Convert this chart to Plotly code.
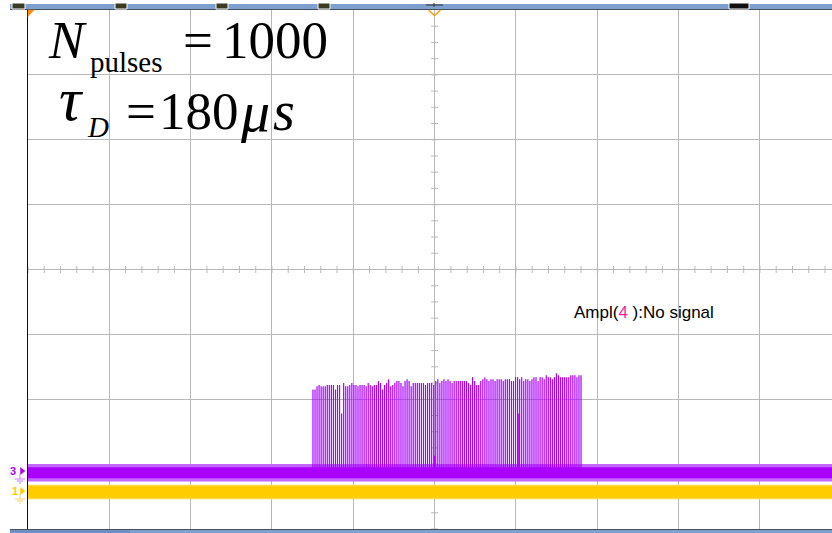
import numpy as np
import plotly.graph_objects as go

# ---------------------------------------------------------------- data
# Screen units: horizontal and vertical divisions of the scope graticule.
# The screen shows 10 x 8 divisions; the right edge is clipped at 9.886 div.
X_VISIBLE_DIVS = 9.886
Y_DIVS = 4.0

# Channel 3 (purple) and channel 1 (yellow) baselines and noise bands [div]
ch3_level = -3.132
ch3_noise_pp = 0.170
ch3_fringe_pp = 0.270
ch1_level = -3.430
ch1_noise_pp = 0.179
ch1_fringe_pp = 0.225

# Pulse train on channel 3: first / last pulse position [div] and peak levels [div]
pulse_first = 3.504
pulse_last = 6.800
pulse_tops = [
    -1.85, -1.85, -1.80, -1.78, -1.80, -1.80, -1.80, -1.78, -1.78, -1.78,
    -1.78, -1.85, -1.78, -1.78, -2.22, -1.75, -1.80, -1.80, -1.78, -1.75,
    -1.78, -1.78, -1.80, -1.78, -1.78, -1.78, -1.80, -1.75, -1.78, -1.80,
    -1.78, -1.78, -1.72, -1.75, -1.85, -1.78, -1.75, -1.69, -1.80, -1.78,
    -1.75, -1.72, -1.72, -1.75, -1.80, -1.72, -1.69, -1.72, -1.80, -1.75,
    -1.75, -1.75, -1.75, -1.75, -1.75, -1.78, -1.75, -1.75, -1.75, -1.78,
    -1.72, -1.69, -1.75, -1.72, -1.69, -1.72, -1.69, -1.72, -1.75, -1.72,
    -1.72, -1.72, -1.72, -1.72, -1.72, -1.72, -1.75, -1.78, -1.66, -1.72,
    -1.78, -1.78, -1.72, -1.69, -1.66, -1.69, -1.72, -1.69, -1.69, -1.72,
    -1.69, -1.69, -1.69, -1.72, -1.69, -1.69, -1.69, -1.72, -1.72, -1.66,
    -1.66, -1.69, -1.66, -1.72, -1.69, -1.69, -1.72, -1.69, -1.66, -1.66,
    -1.72, -1.66, -1.66, -1.69, -1.63, -1.66, -1.66, -1.69, -1.66, -1.60,
    -1.63, -1.66, -1.66, -1.66, -1.66, -1.66, -1.63, -1.63, -1.63, -1.66,
    -1.63, -1.63,
]
# isolated short glitches on channel 3: position [div], peak [div]
glitch_x = [6.034, 5.000]
glitch_top = [-2.22, -2.87]

PURPLE = "#aa00ff"
PURPLE_LIGHT = "#c466ff"
YELLOW = "#ffcc00"
YELLOW_LIGHT = "#ffd84a"
GRID = "#b8b8b8"

# ---------------------------------------------------------------- layout helpers
W, H = 832, 533
L, T, R, B = 28, 10, 832, 529


def px(x):
    return (x - L) / (R - L)


def py(y):
    return (B - y) / (B - T)


fig = go.Figure()


def band(level, pp, color, opacity=1.0):
    x = [0, X_VISIBLE_DIVS]
    fig.add_trace(go.Scatter(x=x, y=[level - pp / 2] * 2, mode="lines",
                             line=dict(width=0, color=color), hoverinfo="skip",
                             showlegend=False))
    fig.add_trace(go.Scatter(x=x, y=[level + pp / 2] * 2, mode="lines",
                             line=dict(width=0, color=color), fill="tonexty",
                             fillcolor=color, opacity=opacity, hoverinfo="skip",
                             showlegend=False))


# graticule centre-line minor ticks
cx = np.arange(0, X_VISIBLE_DIVS, 0.2)
fig.add_trace(go.Scatter(x=cx, y=np.zeros_like(cx), mode="markers",
                         marker=dict(symbol="line-ns", size=5,
                                     line=dict(width=1, color=GRID)),
                         hoverinfo="skip", showlegend=False))
cy = np.arange(-Y_DIVS, Y_DIVS, 0.25)
fig.add_trace(go.Scatter(x=np.full_like(cy, 5.0), y=cy, mode="markers",
                         marker=dict(symbol="line-ew", size=5,
                                     line=dict(width=1, color=GRID)),
                         hoverinfo="skip", showlegend=False))

# channel 1 (yellow)
band(ch1_level, ch1_fringe_pp, YELLOW_LIGHT, 0.35)
band(ch1_level, ch1_noise_pp, YELLOW)

# channel 3 (purple)
band(ch3_level, ch3_fringe_pp, PURPLE_LIGHT, 0.35)
band(ch3_level, ch3_noise_pp, PURPLE)

# pulse spikes
n = len(pulse_tops)
pulse_x = np.linspace(pulse_first, pulse_last, n)
sx, sy = [], []
for xv, top in zip(list(pulse_x) + glitch_x, pulse_tops + glitch_top):
    sx += [float(xv), float(xv), None]
    sy += [ch3_level, top, None]
fig.add_trace(go.Scatter(x=sx, y=sy, mode="lines",
                         line=dict(width=1.2, color=PURPLE),
                         hoverinfo="skip", showlegend=False))

# ---------------------------------------------------------------- decorations
shapes = []


def rect(x0, y0, x1, y1, fill, line=None, lw=0):
    shapes.append(dict(type="rect", xref="paper", yref="paper",
                       x0=px(x0), x1=px(x1), y0=py(y1), y1=py(y0),
                       fillcolor=fill, line=dict(width=lw, color=line or fill),
                       layer="above"))


def seg(x0, y0, x1, y1, color, lw=1):
    shapes.append(dict(type="line", xref="paper", yref="paper",
                       x0=px(x0), x1=px(x1), y0=py(y0), y1=py(y1),
                       line=dict(width=lw, color=color), layer="above"))


def path(points, fill, color, lw=1):
    d = "M " + " L ".join(f"{px(x)},{py(y)}" for x, y in points) + " Z"
    shapes.append(dict(type="path", xref="paper", yref="paper", path=d,
                       fillcolor=fill, line=dict(width=lw, color=color),
                       layer="above"))


# top status bar with knobs
rect(10, 4, 832, 9, "#7f9fcf")
seg(10, 9.5, 832, 9.5, "#46505a", 1.2)
for a, b in [(12, 25), (115, 127), (216, 228), (318, 330)]:
    rect(a, 3, b, 9, "#3a3a22", "white", 1)
rect(729, 3, 749, 9, "#111111", "white", 1)
seg(426, 5, 443, 5, "#333333", 1)
seg(434, 3, 434, 7, "#333333", 1)

# bottom status bar
seg(10, 529.5, 832, 529.5, "#46505a", 1.2)
rect(10, 530, 130, 533, "#6f8fc4")
rect(130, 530, 832, 533, "#7f9fcf")

# trigger markers
path([(28, 10), (34, 10), (28, 16.5)], "#ff8c00", "#ff8c00", 0.5)
shapes.append(dict(type="path", xref="paper", yref="paper",
                   path=f"M {px(428.5)},{py(10)} L {px(434.5)},{py(15.5)} L {px(440.5)},{py(10)}",
                   line=dict(width=1.3, color="#ff9900"), layer="above"))

# channel markers with ground symbols
for yc, col, pale in [(471, PURPLE, "#c77dff"), (491, YELLOW, "#f5d36a")]:
    path([(20.5, yc - 3.5), (25, yc), (20.5, yc + 3.5)], col, col, 0.5)
    seg(20, yc + 3, 20, yc + 8, pale, 1)
    seg(15, yc + 8, 25, yc + 8, pale, 1)
    seg(17, yc + 10, 23, yc + 10, pale, 1)
    seg(19, yc + 12, 21, yc + 12, pale, 1)

# ---------------------------------------------------------------- text
ann = []


def text(x, y, s, size, color="black", family="Liberation Serif",
         xanchor="left", yanchor="middle"):
    ann.append(dict(x=px(x), y=py(y), xref="paper", yref="paper", text=s,
                    showarrow=False, xanchor=xanchor, yanchor=yanchor,
                    font=dict(size=size, color=color, family=family)))


text(46, 40, "<i>N</i>", 53)
text(88, 62, "pulses", 29)
text(181, 40, "=", 53)
text(220, 40, "1000", 53)

text(57, 99, "<i>τ</i>", 62)
text(85, 127, "<i>D</i>", 29)
text(124, 111, "=", 53)
text(157, 111, "180", 53)
text(238, 111, "<i>μ</i>", 58)
text(271, 111, "<i>s</i>", 56)

ann.append(dict(x=px(572), y=py(312), xref="paper", yref="paper",
                text="Ampl(<span style='color:#ff2299'>4</span> ):No signal",
                showarrow=False, xanchor="left", yanchor="middle",
                font=dict(size=17, color="black", family="Liberation Sans")))

text(13.5, 471, "<b>3</b>", 11, PURPLE, "Liberation Sans", "center")
text(14.5, 491, "<b>1</b>", 11, YELLOW, "Liberation Sans", "center")

fig.update_layout(
    width=W, height=H,
    margin=dict(l=L, r=W - R, t=T, b=H - B, pad=0),
    paper_bgcolor="white", plot_bgcolor="white",
    shapes=shapes, annotations=ann,
    xaxis=dict(range=[0, X_VISIBLE_DIVS], dtick=1, tick0=0, showgrid=True,
               gridcolor=GRID, gridwidth=1, zeroline=False,
               showticklabels=False, ticks="", fixedrange=True),
    yaxis=dict(range=[-Y_DIVS, Y_DIVS], dtick=1, tick0=0, showgrid=True,
               gridcolor=GRID, gridwidth=1, zeroline=False,
               showticklabels=False, ticks="", showline=True,
               linecolor="#111111", linewidth=1.3, mirror=False,
               fixedrange=True),
    showlegend=False,
)

fig.write_html("out.html")
